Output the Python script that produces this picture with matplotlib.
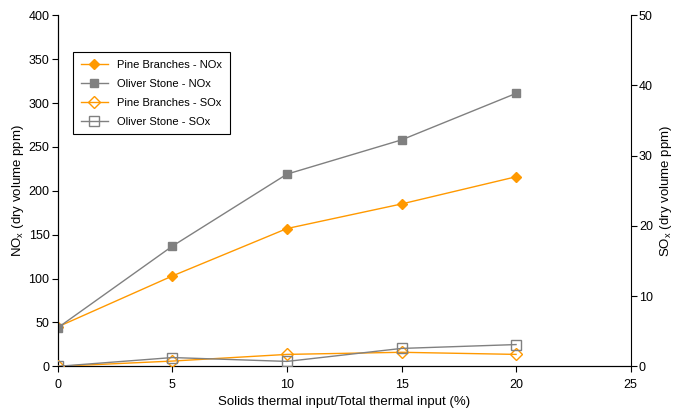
import numpy as np
import matplotlib
matplotlib.use("Agg")
import matplotlib.pyplot as plt

plt.rcParams['font.family'] = ['Liberation Sans', 'DejaVu Sans']
plt.rcParams['mathtext.fontset'] = 'custom'
plt.rcParams['mathtext.rm'] = 'Liberation Sans'
plt.rcParams['mathtext.it'] = 'Liberation Sans'

# solids thermal input share (%)
x = [0, 5, 10, 15, 20]
pine_nox = [45, 103, 157, 185, 216]
olive_nox = [44, 137, 219, 258, 311]
pine_sox = [0, 0.75, 1.7, 2.0, 1.7]
olive_sox = [0, 1.25, 0.7, 2.55, 3.1]

orange = '#FF9900'
grey = '#808080'

fig = plt.figure(figsize=(6.73, 4.13), dpi=100)
ax = fig.add_axes([0.086, 0.113, 0.851, 0.85])
ax2 = ax.twinx()

l1, = ax.plot(x, pine_nox, color=orange, lw=1, marker='D', ms=5,
              label='Pine Branches - NOx', zorder=3)
l2, = ax.plot(x, olive_nox, color=grey, lw=1, marker='s', ms=6,
              label='Oliver Stone - NOx', zorder=4)
l3, = ax2.plot(x, pine_sox, color=orange, lw=1, marker='D', ms=6.5,
               mfc='none', label='Pine Branches - SOx', zorder=3)
l4, = ax2.plot(x, olive_sox, color=grey, lw=1, marker='s', ms=6.5,
               mfc='none', label='Oliver Stone - SOx', zorder=4)

ax.set_xlim(0, 25)
ax.set_ylim(0, 400)
ax2.set_ylim(0, 50)
ax.set_xticks(np.arange(0, 26, 5))
ax.set_yticks(np.arange(0, 401, 50))
ax2.set_yticks(np.arange(0, 51, 10))

for a in (ax, ax2):
    a.spines['top'].set_visible(False)
    a.tick_params(labelsize=9, length=4, width=0.8, direction='out', pad=2)
ax.spines['right'].set_visible(False)
ax.tick_params(axis='x', pad=5)

ax.set_xlabel('Solids thermal input/Total thermal input (%)', fontsize=9.5, labelpad=4)
ax.set_ylabel('NO$_\\mathregular{x}$ (dry volume ppm)', fontsize=9.5, labelpad=2)
ax2.set_ylabel('SO$_\\mathregular{x}$ (dry volume ppm)', fontsize=9.5, labelpad=4)

leg = ax2.legend(handles=[l1, l2, l3, l4], loc='upper left',
                 bbox_to_anchor=(0.026, 0.895), borderaxespad=0,
                 fontsize=8, frameon=True,
                 fancybox=False, edgecolor='black', framealpha=1,
                 handlelength=2.5, borderpad=0.7, labelspacing=0.8)
leg.get_frame().set_linewidth(0.8)

fig.savefig('out.png', dpi=100)
